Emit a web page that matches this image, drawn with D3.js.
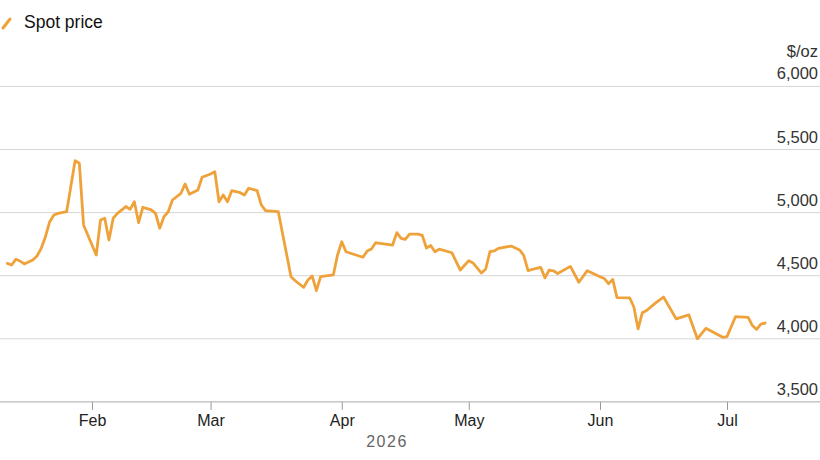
<!DOCTYPE html>
<html>
<head>
<meta charset="utf-8">
<script src="https://cdn.jsdelivr.net/npm/d3@7"></script>
<style>
  body { margin: 0; background: #fff; }
  svg { display: block; font-family: "Liberation Sans", Arial, sans-serif; }
</style>
</head>
<body>
<div id="chart"></div>
<script>
// Spot price readings (date, $/oz)
const dates = [
  "2026-01-12","2026-01-13","2026-01-14","2026-01-15","2026-01-16","2026-01-18","2026-01-19","2026-01-20",
  "2026-01-21","2026-01-22","2026-01-23","2026-01-24","2026-01-26","2026-01-28","2026-01-29","2026-01-30",
  "2026-02-02","2026-02-03","2026-02-04","2026-02-05","2026-02-06","2026-02-07","2026-02-09","2026-02-10",
  "2026-02-11","2026-02-12","2026-02-13","2026-02-15","2026-02-16","2026-02-17","2026-02-18","2026-02-19",
  "2026-02-20","2026-02-22","2026-02-23","2026-02-24","2026-02-26","2026-02-27","2026-03-01","2026-03-02",
  "2026-03-03","2026-03-04","2026-03-05","2026-03-06","2026-03-08","2026-03-09","2026-03-10","2026-03-12",
  "2026-03-13","2026-03-14","2026-03-17","2026-03-20","2026-03-21","2026-03-23","2026-03-24","2026-03-25",
  "2026-03-26","2026-03-27","2026-03-30","2026-03-31","2026-04-01","2026-04-02","2026-04-06","2026-04-07",
  "2026-04-08","2026-04-09","2026-04-10","2026-04-13","2026-04-14","2026-04-15","2026-04-16","2026-04-17",
  "2026-04-19","2026-04-20","2026-04-21","2026-04-22","2026-04-23","2026-04-24","2026-04-27","2026-04-29",
  "2026-05-01","2026-05-02","2026-05-04","2026-05-05","2026-05-06","2026-05-07","2026-05-08","2026-05-11",
  "2026-05-13","2026-05-14","2026-05-15","2026-05-17","2026-05-18","2026-05-19","2026-05-20","2026-05-21",
  "2026-05-22","2026-05-25","2026-05-27","2026-05-29","2026-06-01","2026-06-02","2026-06-03","2026-06-04",
  "2026-06-05","2026-06-08","2026-06-09","2026-06-10","2026-06-11","2026-06-12","2026-06-14","2026-06-16",
  "2026-06-19","2026-06-22","2026-06-24","2026-06-26","2026-06-30","2026-07-01","2026-07-03","2026-07-06",
  "2026-07-07","2026-07-08","2026-07-09","2026-07-10"
];
const prices = [
  4598,4585,4630,4616,4593,4624,4656,4717,
  4809,4928,4981,4994,5007,5411,5391,4902,
  4664,4941,4955,4783,4955,4994,5048,5026,
  5086,4920,5042,5021,4994,4876,4968,5007,
  5100,5153,5227,5145,5179,5280,5306,5324,
  5086,5139,5086,5174,5158,5139,5193,5174,
  5060,5015,5007,4492,4460,4408,4466,4498,
  4381,4492,4506,4664,4769,4690,4646,4696,
  4712,4761,4757,4743,4841,4796,4788,4830,
  4830,4820,4719,4739,4690,4710,4682,4545,
  4619,4601,4521,4553,4690,4696,4717,4735,
  4704,4660,4540,4559,4565,4483,4545,4539,
  4517,4574,4448,4540,4492,4478,4437,4471,
  4327,4325,4252,4078,4207,4224,4281,4331,
  4158,4189,4000,4083,4012,4017,4175,4170,
  4105,4075,4117,4125
];
const yTicks = [3500, 4000, 4500, 5000, 5500, 6000];
const monthTicks = ["2026-02-01","2026-03-01","2026-04-01","2026-05-01","2026-06-01","2026-07-01"];
const seriesName = "Spot price";
const unitLabel = "$/oz";
const yearLabel = "2026";

const width = 820, height = 460;
const lineColor = "#efa23a";

const parseDate = d3.utcParse("%Y-%m-%d");
const data = dates.map((d, i) => ({ date: parseDate(d), value: prices[i] }));

const svg = d3.select("#chart")
  .append("svg")
  .attr("width", width)
  .attr("height", height);

// scales
const x = d3.scaleUtc()
  .domain([parseDate("2026-01-01"), parseDate("2026-07-01")])
  .range([-39.2, 727]);

const y = d3.scaleLinear()
  .domain([3500, 6000])
  .range([401.9, 86.4]);

// gridlines
svg.append("g")
  .selectAll("line")
  .data(yTicks.filter(d => d > 3500))
  .join("line")
  .attr("x1", 0)
  .attr("x2", width)
  .attr("y1", d => y(d))
  .attr("y2", d => y(d))
  .attr("stroke", "#d6d6d6")
  .attr("stroke-width", 1);

// y labels sit above their gridline, right aligned
svg.append("g")
  .selectAll("text")
  .data(yTicks)
  .join("text")
  .attr("x", 818)
  .attr("y", d => y(d) - 7)
  .attr("text-anchor", "end")
  .attr("font-size", "16.5px")
  .attr("fill", "#333")
  .text(d => d3.format(",")(d));

svg.append("text")
  .attr("x", 818)
  .attr("y", y(6000) - 29)
  .attr("text-anchor", "end")
  .attr("font-size", "16.5px")
  .attr("fill", "#333")
  .text(unitLabel);

// x axis
const xAxis = svg.append("g")
  .attr("transform", `translate(0,${y(3500)})`)
  .call(d3.axisBottom(x)
    .tickValues(monthTicks.map(parseDate))
    .tickFormat(d3.utcFormat("%b"))
    .tickSize(8)
    .tickPadding(5));

xAxis.select(".domain").remove();
xAxis.selectAll(".tick line").attr("stroke", "#999");
xAxis.selectAll(".tick text")
  .attr("font-family", "'Liberation Sans', Arial, sans-serif")
  .attr("font-size", "16px")
  .attr("fill", "#222");

svg.append("line")
  .attr("x1", 0)
  .attr("x2", width)
  .attr("y1", y(3500))
  .attr("y2", y(3500))
  .attr("stroke", "#aaa")
  .attr("stroke-width", 1);

svg.append("text")
  .attr("x", 387)
  .attr("y", 447)
  .attr("text-anchor", "middle")
  .attr("font-size", "16px")
  .attr("letter-spacing", "1.5px")
  .attr("fill", "#666")
  .text(yearLabel);

// price line
const lineGen = d3.line()
  .x(d => x(d.date))
  .y(d => y(d.value));

svg.append("path")
  .datum(data)
  .attr("fill", "none")
  .attr("stroke", lineColor)
  .attr("stroke-width", 2.8)
  .attr("stroke-linejoin", "round")
  .attr("stroke-linecap", "round")
  .attr("d", lineGen);

// legend
svg.append("line")
  .attr("x1", 3)
  .attr("y1", 28)
  .attr("x2", 10)
  .attr("y2", 19)
  .attr("stroke", lineColor)
  .attr("stroke-width", 3)
  .attr("stroke-linecap", "round");

svg.append("text")
  .attr("x", 24)
  .attr("y", 28)
  .attr("font-size", "17.5px")
  .attr("fill", "#111")
  .text(seriesName);
</script>
</body>
</html>
